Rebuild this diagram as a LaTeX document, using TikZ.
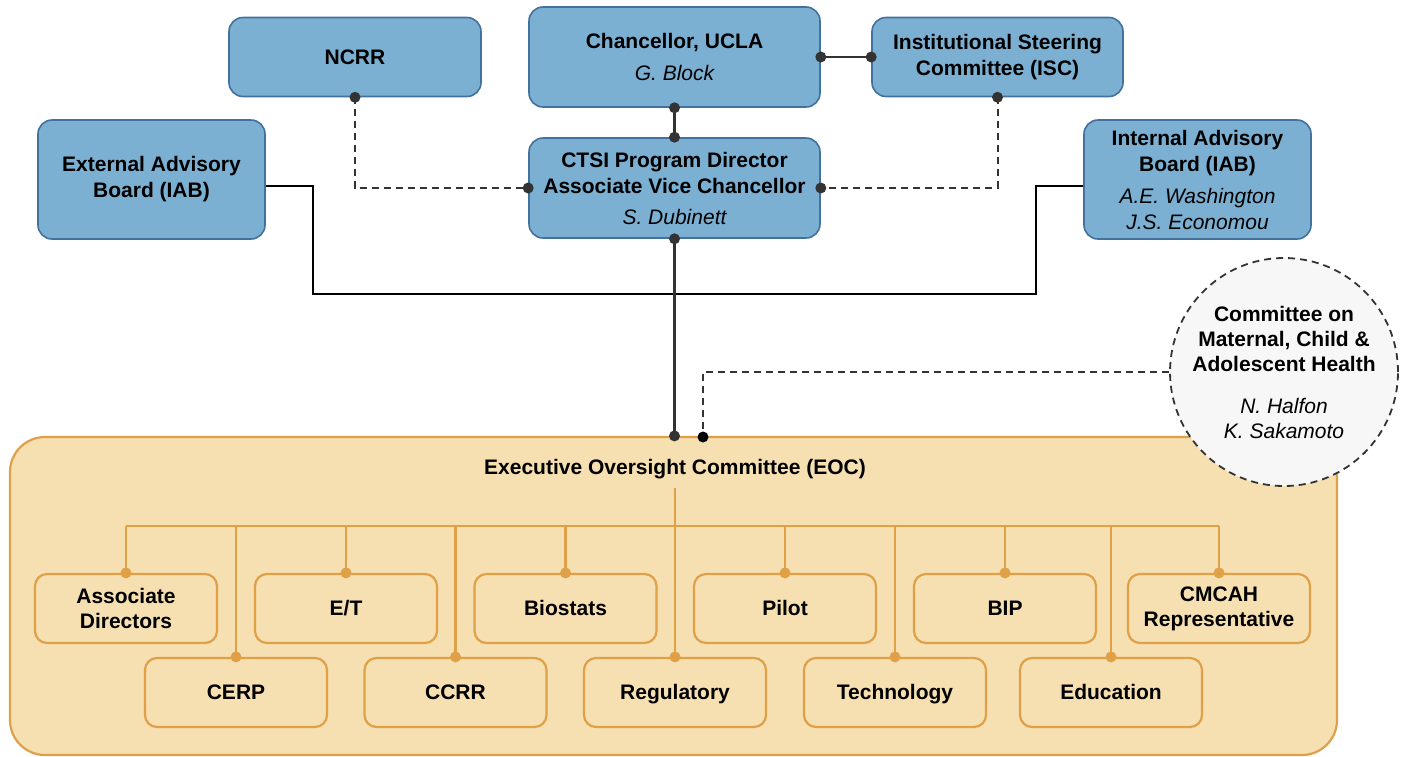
\documentclass[tikz,border=0pt]{standalone}
\usepackage{fontspec}
\setmainfont{Liberation Sans}
\definecolor{bfill}{HTML}{7BB0D3}
\definecolor{bdraw}{HTML}{41719C}
\definecolor{dk}{HTML}{333333}
\definecolor{ofill}{HTML}{F6DFB1}
\definecolor{odraw}{HTML}{DFA048}
\definecolor{cfill}{HTML}{F7F7F7}
\definecolor{cdraw}{HTML}{333333}
\newcommand\dkdot[1]{\fill[dk] (#1) circle (5.5pt);}
\newcommand\orangedot[1]{\fill[odraw] (#1) circle (5.5pt);}
\newcommand\nm[1]{{\mdseries\itshape #1}}
\newcommand\one[1]{\vphantom{A}\smash{#1}}
\begin{document}
\begin{tikzpicture}[x=1pt,y=-1pt,
 bluebox/.style={draw=bdraw,fill=bfill,line width=1.6pt,rounded corners=14pt,align=center,inner sep=0pt,font=\bfseries\fontsize{21}{26}\selectfont},
 subbox/.style={draw=odraw,line width=2.2pt,rounded corners=12pt,minimum width=182pt,minimum height=69pt,align=center,inner sep=0pt,font=\bfseries\fontsize{21}{25}\selectfont},
 conn/.style={draw=dk,line width=2.6pt},
 thinconn/.style={draw=black,line width=1.8pt},
 dashconn/.style={draw=dk,line width=2pt,dash pattern=on 7pt off 5pt},
 oconn/.style={draw=odraw,line width=2.8pt},
 eocstyle/.style={draw=odraw,fill=ofill,line width=2.2pt,rounded corners=35pt,inner sep=0pt},
 cmstyle/.style={circle,draw=cdraw,fill=cfill,line width=1.8pt,dash pattern=on 7pt off 5pt,inner sep=0pt,minimum size=228pt,align=center,font=\bfseries\fontsize{21}{25}\selectfont}
]
\useasboundingbox (0,0) rectangle (1404,756);

% EOC container
\node[eocstyle,minimum width=1327pt,minimum height=318pt] (eoc) at (673.5,596) {};
\node[font=\bfseries\fontsize{21}{26}\selectfont,inner sep=0pt,minimum height=38pt] (eoct) at (675,469) {Executive Oversight Committee (EOC)};

% Committee circle
\node[cmstyle] (cm) at (1284,372) {Committee on\\Maternal, Child \&\\Adolescent Health\\[17pt]\nm{N. Halfon}\\\nm{K. Sakamoto}};

% Blue boxes
\node[bluebox,minimum width=252pt,minimum height=79pt] (ncrr) at (355,57) {\one{NCRR}};
\node[bluebox,minimum width=291pt,minimum height=100pt] (ch) at (674.5,57) {Chancellor, UCLA\\[6pt]\nm{G. Block}};
\node[bluebox,minimum width=251pt,minimum height=79pt] (isc) at (997.5,57) {Institutional Steering\\Committee (ISC)};
\node[bluebox,minimum width=291pt,minimum height=100pt] (ctsi) at (674.5,188) {CTSI Program Director\\Associate Vice Chancellor\\[5pt]\nm{S. Dubinett}};
\node[bluebox,minimum width=227pt,minimum height=119pt] (ext) at (151.5,179.5) {External Advisory\\Board (IAB)};
\node[bluebox,minimum width=227pt,minimum height=119pt] (int) at (1197.5,179.5) {Internal Advisory\\Board (IAB)\\[6pt]\nm{A.E. Washington}\\\nm{J.S. Economou}};

% Sub boxes
\node[subbox] (ad) at (126,608.5) {Associate\\Directors};
\node[subbox] (et) at (346,608.5) {\one{E/T}};
\node[subbox] (bio) at (565.5,608.5) {\one{Biostats}};
\node[subbox] (pil) at (785,608.5) {\one{Pilot}};
\node[subbox] (bip) at (1005,608.5) {\one{BIP}};
\node[subbox] (cmr) at (1219,608.5) {CMCAH\\Representative};
\node[subbox] (cerp) at (236,692.5) {\one{CERP}};
\node[subbox] (ccrr) at (455.5,692.5) {\one{CCRR}};
\node[subbox] (reg) at (675,692.5) {\one{Regulatory}};
\node[subbox] (tech) at (895,692.5) {\one{Technology}};
\node[subbox] (edu) at (1111,692.5) {\one{Education}};

% Orange tree
\coordinate (bus) at (0,526);
\draw[oconn] (eoct.south) -- (reg.north);
\draw[oconn] (ad.north |- bus) -- (cmr.north |- bus);
\foreach \b in {ad,et,bio,pil,bip,cmr,cerp,ccrr,tech,edu}{
  \draw[oconn] (\b.north) -- (\b.north |- bus);
}
\foreach \b in {ad,et,bio,pil,bip,cmr,cerp,ccrr,reg,tech,edu}{
  \orangedot{\b.north}
}

% Top connectors
\draw[conn] (ch.east) -- (isc.west);
\draw[conn] (ch.south) -- (ctsi.north);
\draw[dashconn] (ncrr.south) |- (ctsi.west);
\draw[dashconn] (isc.south) |- (ctsi.east);
\draw[thinconn] ([yshift=-6.5pt]ext.east) -- ++(47,0) |- (1036,294) |- ([yshift=-6.5pt]int.west);
\coordinate (eocin) at (ctsi.south |- eoc.north);
\draw[conn] (ctsi.south) -- (eocin);
\coordinate (eocdash) at (703,437);
\draw[dashconn] (cm.west) -| (eocdash);

\dkdot{ch.east}
\dkdot{isc.west}
\dkdot{ch.south}
\dkdot{ctsi.north}
\dkdot{ctsi.west}
\dkdot{ctsi.east}
\dkdot{ctsi.south}
\dkdot{ncrr.south}
\dkdot{isc.south}
\dkdot{eocin}
\fill[black] (eocdash) circle (5.5pt);
\end{tikzpicture}
\end{document}
